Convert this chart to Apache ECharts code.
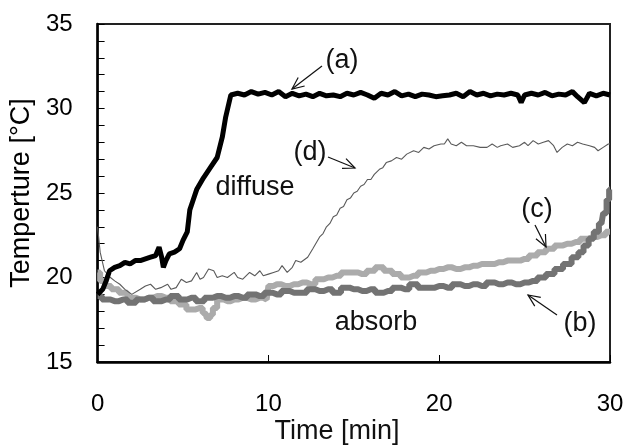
<!DOCTYPE html>
<html>
<head>
<meta charset="utf-8">
<script src="https://cdn.jsdelivr.net/npm/echarts@6/dist/echarts.min.js"></script>
<style>html,body{margin:0;padding:0;background:#fff}#c{width:627px;height:446px}</style>
</head>
<body>
<div id="c"></div>
<script>
// ---- data (time [min], temperature [°C]) ----
const xTicks = [0, 10, 20, 30];
const yTicks = [15, 20, 25, 30, 35];

const curveA = [[0,19.0],[0.3,19.3],[0.5,19.8],[0.7,20.4],[1.0,20.6],[1.3,20.7],[1.6,20.9],[1.9,20.8],[2.2,21.0],[2.5,21.0],[2.8,21.1],[3.1,21.2],[3.4,21.3],[3.6,21.8],[3.75,21.2],[3.85,20.6],[4.0,21.0],[4.2,21.4],[4.5,21.5],[4.8,21.7],[5.0,22.2],[5.25,22.7],[5.4,24.0],[5.6,24.6],[5.8,25.2],[6.2,25.9],[6.6,26.5],[7.0,27.1],[7.3,28.3],[7.5,29.5],[7.8,30.8],[8.2,30.9],[8.6,30.8],[9.0,31.0],[9.4,30.85],[9.8,30.95],[10.2,30.8],[10.6,31.0],[11.0,30.7],[11.4,30.9],[11.8,30.75],[12.2,30.85],[12.6,30.7],[13.0,30.9],[13.4,30.75],[13.8,30.8],[14.2,30.7],[14.6,30.9],[15.0,30.8],[15.4,30.95],[15.8,30.8],[16.2,30.6],[16.6,30.9],[17.0,30.8],[17.4,31.0],[17.8,30.75],[18.2,30.85],[18.6,30.7],[19.0,30.85],[19.4,30.8],[19.8,30.7],[20.2,30.75],[20.6,30.8],[21.0,30.9],[21.4,30.7],[21.8,31.0],[22.2,30.8],[22.6,30.9],[23.0,30.75],[23.4,30.85],[23.8,30.8],[24.2,30.9],[24.6,30.8],[24.8,30.35],[25.0,30.8],[25.4,30.9],[25.8,30.8],[26.2,30.95],[26.6,30.75],[27.0,30.85],[27.4,30.8],[27.8,31.0],[28.1,30.7],[28.5,30.35],[28.8,30.9],[29.2,30.75],[29.6,30.9],[30,30.8]];

const curveB = [[0,18.9],[0.5,18.7],[1,18.6],[1.5,18.7],[2,18.5],[2.5,18.7],[3,18.8],[3.5,18.6],[4,18.7],[4.5,18.9],[5,18.7],[5.5,18.8],[6,18.6],[6.5,18.8],[7,18.9],[7.5,18.8],[8,18.9],[8.5,18.8],[9,19.0],[9.5,18.9],[10,19.1],[10.5,19.0],[11,19.2],[11.5,19.1],[12,19.1],[12.5,19.3],[13,19.2],[13.5,19.3],[14,19.1],[14.5,19.4],[15,19.3],[15.5,19.2],[16,19.3],[16.5,19.1],[17,19.2],[17.5,19.4],[18,19.3],[18.5,19.6],[19,19.4],[19.5,19.4],[20,19.5],[20.5,19.4],[21,19.6],[21.5,19.5],[22,19.6],[22.5,19.5],[23,19.7],[23.5,19.6],[24,19.7],[24.5,19.6],[25,19.7],[25.5,19.8],[26,20.0],[26.5,20.2],[27,20.5],[27.5,20.8],[28,21.2],[28.3,21.5],[28.6,21.9],[28.9,22.3],[29.2,22.7],[29.5,23.2],[29.7,23.8],[29.9,24.6],[30,25.2]];

const curveC = [[0,20.3],[0.3,19.8],[0.6,19.5],[1,19.3],[1.5,19.1],[2,18.8],[2.5,18.7],[3,18.8],[3.5,18.9],[4,18.8],[4.5,18.6],[5,18.4],[5.4,18.1],[6,18.2],[6.3,17.9],[6.5,17.6],[6.7,17.8],[6.8,18.2],[7.2,18.7],[7.6,18.6],[8,18.7],[8.5,18.8],[9,18.7],[9.5,18.8],[9.9,18.7],[10.1,19.5],[10.5,19.6],[11,19.5],[11.5,19.6],[12,19.7],[12.5,19.6],[13,19.9],[13.5,20.0],[14,20.1],[14.5,20.3],[15,20.3],[15.5,20.2],[16,20.4],[16.5,20.6],[17,20.4],[17.5,20.2],[18,20.0],[18.5,20.1],[19,20.3],[19.5,20.4],[20,20.5],[20.5,20.6],[21,20.5],[21.5,20.6],[22,20.7],[22.5,20.8],[23,20.8],[23.5,20.9],[24,21.0],[24.5,21.0],[25,21.1],[25.5,21.3],[26,21.5],[26.5,21.7],[27,21.9],[27.5,22.0],[28,22.1],[28.5,22.3],[29,22.4],[29.5,22.5],[30,22.7]];

const curveD = [[0,23.0],[0.15,21.5],[0.4,20.4],[0.75,20.0],[1.0,19.8],[1.3,19.6],[1.6,19.3],[2.0,19.0],[2.5,19.3],[2.8,19.5],[3.1,19.6],[3.4,19.3],[3.7,19.4],[4.1,19.6],[4.3,19.3],[4.6,19.4],[4.9,19.9],[5.2,19.7],[5.5,19.8],[5.8,20.3],[6.0,19.9],[6.2,20.0],[6.5,20.5],[6.8,20.4],[7.0,20.0],[7.3,20.1],[7.6,20.0],[8.0,20.3],[8.2,20.0],[8.5,19.9],[8.9,20.3],[9.2,20.1],[9.5,20.4],[9.7,20.1],[10.0,20.2],[10.3,20.3],[10.6,20.4],[10.8,20.7],[11.1,20.3],[11.4,20.6],[11.6,21.0],[11.9,20.9],[12.3,21.2],[12.6,21.7],[13.0,22.4],[13.2,22.6],[13.4,23.0],[13.6,23.2],[13.8,23.6],[14.0,23.7],[14.2,24.1],[14.4,24.2],[14.6,24.6],[14.8,24.7],[15.0,25.0],[15.2,25.1],[15.4,25.4],[15.6,25.5],[15.8,25.8],[16.0,25.8],[16.2,26.1],[16.5,26.4],[16.7,26.5],[16.9,26.8],[17.2,26.9],[17.5,27.1],[17.8,27.0],[18.1,27.3],[18.5,27.5],[18.8,27.4],[19.1,27.7],[19.4,27.6],[19.7,27.8],[20.1,27.9],[20.3,27.9],[20.5,28.2],[20.7,27.9],[21.0,27.8],[21.3,28.0],[21.6,27.8],[22.0,27.8],[22.4,27.7],[22.8,27.7],[23.1,27.9],[23.4,27.7],[23.6,27.8],[24.0,27.9],[24.3,27.7],[24.7,27.8],[25.0,28.0],[25.2,27.8],[25.5,28.1],[25.8,27.9],[26.1,28.0],[26.4,28.1],[26.7,27.8],[26.9,27.4],[27.2,27.7],[27.5,27.9],[27.8,27.8],[28.1,28.0],[28.4,27.9],[28.8,27.8],[29.1,27.7],[29.3,27.5],[29.6,27.7],[29.9,27.9],[30,27.9]];

const xTitle = 'Time [min]';
const yTitle = 'Temperture [°C]';

// ---- rendering ----
const FONT = 'Liberation Sans, Arial, Helvetica, sans-serif';
const chart = echarts.init(document.getElementById('c'), null, {renderer: 'canvas'});

function arrow(x1, y1, x2, y2) {
  const ang = Math.atan2(y2 - y1, x2 - x1);
  const L = 13, a = 0.42;
  const b1 = [x2 - L * Math.cos(ang - a), y2 - L * Math.sin(ang - a)];
  const b2 = [x2 - L * Math.cos(ang + a), y2 - L * Math.sin(ang + a)];
  return [
    {type: 'line', shape: {x1, y1, x2, y2}, style: {stroke: '#111', lineWidth: 1.2}, z: 100},
    {type: 'polyline', shape: {points: [b1, [x2, y2], b2]}, style: {stroke: '#111', lineWidth: 1.2, fill: null}, z: 100}
  ];
}
function label(text, cx, cy, size) {
  return {type: 'text', x: cx, y: cy, z: 100,
    style: {text, fill: '#111', font: size + 'px ' + FONT, align: 'center', verticalAlign: 'middle'}};
}

const graphics = [].concat(
  arrow(322, 66, 292, 89),
  arrow(328, 157, 355, 168),
  arrow(535, 225, 546, 247),
  arrow(557, 315, 528, 295),
  [label('(a)', 342, 61, 27), label('(d)', 310, 153, 27), label('(c)', 537, 210, 27), label('(b)', 580, 324, 27),
   label('diffuse', 255, 188, 27), label('absorb', 376, 323, 27),
   label(xTitle, 337, 432, 27)]
);

chart.setOption({
  animation: false,
  backgroundColor: '#fff',
  grid: {left: 97, right: 17, top: 24, bottom: 84, show: true, borderColor: '#222', borderWidth: 2, backgroundColor: 'transparent'},
  xAxis: {
    type: 'value', min: xTicks[0], max: xTicks[xTicks.length - 1], interval: 10,
    axisLine: {show: true, lineStyle: {color: '#000', width: 2.5}},
    axisTick: {show: true, inside: true, length: 7, lineStyle: {color: '#000', width: 1}},
    axisLabel: {color: '#000', fontSize: 24, fontFamily: FONT, margin: 30,
      formatter: v => (xTicks.indexOf(v) >= 0 ? String(v) : '')},
    splitLine: {show: false}
  },
  yAxis: {
    type: 'value', min: yTicks[0], max: yTicks[yTicks.length - 1], interval: 5,
    name: yTitle, nameLocation: 'middle', nameRotate: 90, nameGap: 60,
    nameTextStyle: {color: '#000', fontSize: 27, fontFamily: FONT},
    axisLine: {show: true, lineStyle: {color: '#000', width: 2.5}},
    axisTick: {show: true, inside: true, length: 7, lineStyle: {color: '#000', width: 1}},
    minorTick: {show: true, splitNumber: 5, length: 7, lineStyle: {color: '#000', width: 1}},
    axisLabel: {color: '#000', fontSize: 24, fontFamily: FONT, margin: 25,
      formatter: v => (yTicks.indexOf(v) >= 0 ? String(v) : '')},
    splitLine: {show: false}
  },
  series: [
    {name: '(c)', type: 'line', data: curveC, step: 'middle', showSymbol: false, lineStyle: {color: '#ababab', width: 6}, z: 2},
    {name: '(b)', type: 'line', data: curveB, step: 'middle', showSymbol: false, lineStyle: {color: '#737373', width: 6}, z: 3},
    {name: '(d)', type: 'line', data: curveD, showSymbol: false, lineStyle: {color: '#5a5a5a', width: 1.1}, z: 4},
    {name: '(a)', type: 'line', data: curveA, showSymbol: false, lineStyle: {color: '#000', width: 5}, z: 5}
  ],
  graphic: graphics
});
</script>
</body>
</html>
